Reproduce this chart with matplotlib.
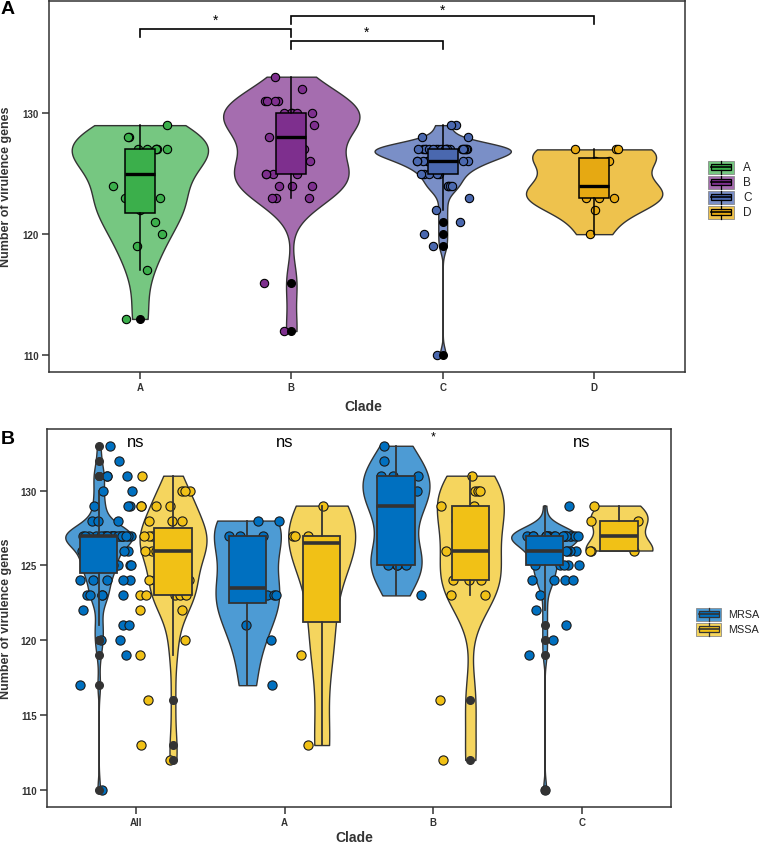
import numpy as np
import matplotlib
matplotlib.use("Agg")
import matplotlib.pyplot as plt
from matplotlib.patches import Rectangle

plt.rcParams['font.family'] = ['Liberation Sans', 'DejaVu Sans']

# ---------------- data ----------------
# virulence gene counts per isolate, split by clade and MRSA / MSSA
A_MRSA = [117, 120, 121, 123, 123, 123, 124, 127, 127, 127, 128, 128]
A_MSSA = [113, 119, 122, 126, 127, 127, 127, 129]
B_MRSA = [123, 125, 125, 125, 125, 126, 128, 129, 129, 130, 130, 131, 131, 131, 132, 133]
B_MSSA = [112, 116, 123, 123, 124, 124, 124, 126, 126, 127, 128, 129, 129, 130, 130, 130, 131]
C_MRSA = [110, 119, 120, 121, 122, 123, 124, 124, 124, 124,
          125, 125, 125, 125, 125,
          126, 126, 126, 126, 126, 126, 126,
          127, 127, 127, 127, 127, 127, 127, 127, 127, 127,
          127, 127, 127, 127, 127, 127, 127, 127, 127, 127,
          129]
C_MSSA = [126, 126, 126, 128, 128, 129]
D_MSSA = [120, 122, 123, 123, 123, 124, 124, 126, 126, 127, 127, 127]

# panel A: clades
clades = ["A", "B", "C", "D"]
clade_values = [A_MRSA + A_MSSA, B_MRSA + B_MSSA, C_MRSA + C_MSSA, D_MSSA]
clade_box_colors = ["#3BAF4B", "#7E2F8E", "#4A68AF", "#E6A912"]
clade_violin_colors = ["#76C781", "#A56DAF", "#7A8FC7", "#EEC24D"]
comparisons = [("A", "B", "*"), ("B", "C", "*"), ("B", "D", "*")]

# panel B: MRSA vs MSSA
groups_B = ["All", "A", "B", "C"]
mrsa_values = [A_MRSA + B_MRSA + C_MRSA, A_MRSA, B_MRSA, C_MRSA]
mssa_values = [A_MSSA + B_MSSA + C_MSSA + D_MSSA, A_MSSA, B_MSSA, C_MSSA]
sig_B = ["ns", "ns", "*", "ns"]
types = ["MRSA", "MSSA"]
type_box_colors = ["#0070C0", "#F1C116"]
type_violin_colors = ["#4D9BD4", "#F5D55E"]

rng = np.random.default_rng(7)

# ---------------- helpers ----------------
def nrd0(x):
    x = np.asarray(x, float)
    n = x.size
    sd = x.std(ddof=1)
    q75, q25 = np.percentile(x, [75, 25])
    lo = min(sd, (q75 - q25) / 1.34)
    if lo <= 0:
        lo = sd if sd > 0 else 1.0
    return 0.9 * lo * n ** -0.2


def violin(ax, data, pos, width, face, edge="#333333", lw=1.0, z=1):
    x = np.asarray(data, float)
    ys = np.linspace(x.min(), x.max(), 512)
    bw = nrd0(x)
    d = np.exp(-0.5 * ((ys[:, None] - x[None, :]) / bw) ** 2).sum(1)
    half = d / d.max() * width / 2
    ax.fill_betweenx(ys, pos - half, pos + half, facecolor=face,
                     edgecolor=edge, linewidth=lw, zorder=z)


def box(ax, data, pos, width, face, edge, lw, mlw, fcol, fsize, z=3):
    ax.boxplot([data], positions=[pos], widths=width, patch_artist=True,
               showcaps=False, whis=1.5, manage_ticks=False,
               boxprops=dict(facecolor=face, edgecolor=edge, linewidth=lw),
               whiskerprops=dict(color=edge, linewidth=lw),
               medianprops=dict(color=edge, linewidth=mlw, solid_capstyle="butt"),
               flierprops=dict(marker="o", markerfacecolor=fcol, markeredgecolor=fcol,
                               markersize=fsize, linestyle="none"),
               zorder=z)


def jitter(ax, data, center, half, face, edge, size, z=2):
    y = np.asarray(data, float)
    x = center + rng.uniform(-half, half, size=y.size)
    ax.scatter(x, y, s=size, facecolor=face, edgecolor=edge, linewidth=0.8, zorder=z)


def style_axes(ax):
    for s in ax.spines.values():
        s.set_color("#333333")
        s.set_linewidth(1.1)
    ax.tick_params(direction="out", length=5, width=1.1, color="#333333",
                   labelsize=7, labelcolor="#333333", pad=2.2)
    for lab in ax.get_xticklabels() + ax.get_yticklabels():
        lab.set_fontweight("bold")


W, H = 760, 845
fig = plt.figure(figsize=(W / 100, H / 100), dpi=100)


def fax(l, t, r, b):
    return fig.add_axes([l / W, 1 - b / H, (r - l) / W, (b - t) / H])

# ---------------- panel A ----------------
axA = fax(49, 1.5, 685, 373)
posA = np.arange(1, len(clades) + 1)
for p, vals, vc, bc in zip(posA, clade_values, clade_violin_colors, clade_box_colors):
    violin(axA, vals, p, 0.9, vc)
    jitter(axA, vals, p, 0.18, bc, "black", 36)
    box(axA, vals, p, 0.2, bc, "black", 1.1, 2.4, "black", 5.5)

axA.set_xlim(0.4, 4.6)
axA.set_ylim(108.62, 139.29)
axA.set_xticks(posA)
axA.set_xticklabels(clades)
axA.set_yticks([110, 120, 130])
style_axes(axA)

bracket_y = [136.95, 135.96, 137.98]
star_gap = [0.44, 0.45, 0.2]
for (g1, g2, lab), yb, gp in zip(comparisons, bracket_y, star_gap):
    x1 = posA[clades.index(g1)]
    x2 = posA[clades.index(g2)]
    axA.plot([x1, x1, x2, x2], [yb - 0.65, yb, yb, yb - 0.65], color="black",
             lw=1.2, solid_joinstyle="miter", zorder=5, clip_on=False)
    axA.text((x1 + x2) / 2, yb + gp, lab, ha="center", va="baseline",
             fontsize=10, color="black")

# ---------------- panel B ----------------
axB = fax(46.7, 430, 671, 808)
posB = np.arange(1, len(groups_B) + 1)
for p, mr, ms in zip(posB, mrsa_values, mssa_values):
    for k, vals in enumerate([mr, ms]):
        off = -0.25 if k == 0 else 0.25
        joff = -0.2 if k == 0 else 0.2
        violin(axB, vals, p + off, 0.45, type_violin_colors[k])
        jitter(axB, vals, p + joff, 0.18, type_box_colors[k], "#1a1a1a", 44)
        box(axB, vals, p + off, 0.25, type_box_colors[k], "#333333", 1.3, 2.6,
            "#333333", 5.5)

axB.set_xlim(0.4, 4.6)
axB.set_ylim(108.86, 134.12)
axB.set_xticks(posB)
axB.set_xticklabels(groups_B)
axB.set_yticks([110, 115, 120, 125, 130])
style_axes(axB)
for p, lab in zip(posB, sig_B):
    if lab == "*":
        axB.text(p, 133.2, lab, ha="center", va="bottom", fontsize=9, color="black")
    else:
        axB.text(p, 133.3, lab, ha="center", va="center", fontsize=12, color="black")

# ---------------- overlay: titles, legends ----------------
ov = fig.add_axes([0, 0, 1, 1])
ov.set_xlim(0, W)
ov.set_ylim(H, 0)
ov.axis("off")

ov.text(1, 1, "A", fontsize=14, fontweight="bold", ha="left", va="top")
ov.text(1, 431, "B", fontsize=14, fontweight="bold", ha="left", va="top")

ov.text(6.5, 187, "Number of virulence genes", rotation=90, ha="center", va="center",
        fontsize=9, fontweight="bold", color="#333333")
ov.text(6.5, 619, "Number of virulence genes", rotation=90, ha="center", va="center",
        fontsize=9, fontweight="bold", color="#333333")
ov.text(363, 407, "Clade", ha="center", va="center", fontsize=10,
        fontweight="bold", color="#333333")
ov.text(354, 838, "Clade", ha="center", va="center", fontsize=10,
        fontweight="bold", color="#333333")


def key(x0, yc, w, h, vcol, bcol, bedge):
    ov.add_patch(Rectangle((x0, yc - h / 2), w, h, facecolor=vcol, edgecolor="#8a8a8a",
                           linewidth=0.6))
    ov.add_patch(Rectangle((x0 + 0.1 * w, yc - h / 4), 0.8 * w, h / 2, facecolor=bcol,
                           edgecolor=bedge, linewidth=0.9))
    ov.plot([x0 + 0.1 * w, x0 + 0.9 * w], [yc, yc], color=bedge, lw=1.2)
    ov.plot([x0 + w / 2, x0 + w / 2], [yc - h / 2, yc - h / 4], color=bedge, lw=0.9)
    ov.plot([x0 + w / 2, x0 + w / 2], [yc + h / 4, yc + h / 2], color=bedge, lw=0.9)


for i, (lab, vc, bc) in enumerate(zip(clades, clade_violin_colors, clade_box_colors)):
    yc = 168 + 15 * i
    key(708, yc, 26, 13, vc, bc, "black")
    ov.text(743, yc, lab, ha="left", va="center", fontsize=8.5, color="#222222")

for i, (lab, vc, bc) in enumerate(zip(types, type_violin_colors, type_box_colors)):
    yc = 615 + 15 * i
    key(696, yc, 25, 13, vc, bc, "#333333")
    ov.text(728, yc, lab, ha="left", va="center", fontsize=7.8, color="#222222")

fig.savefig("out.png", dpi=100)
